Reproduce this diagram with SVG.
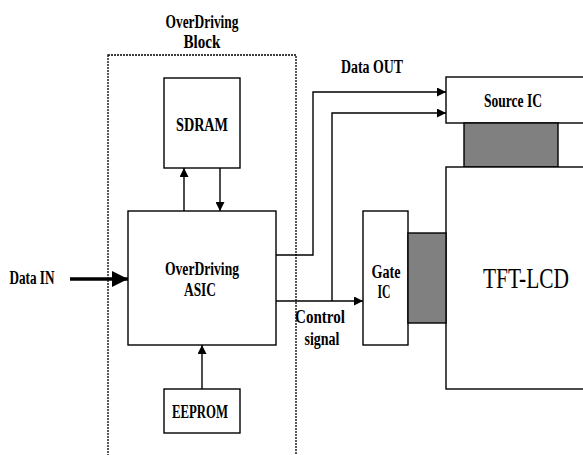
<svg xmlns="http://www.w3.org/2000/svg" width="583" height="455" viewBox="0 0 583 455">
<style>
.box{fill:#fff;stroke:#000;stroke-width:1.4}
.gray{fill:#808080;stroke:#000;stroke-width:1.4}
.ln{fill:none;stroke:#000;stroke-width:1.4}
.t{font-family:"Liberation Serif",serif;font-weight:bold;font-size:18px;fill:#000;text-anchor:middle}
.big{font-family:"Liberation Serif",serif;font-size:30px;fill:#000;text-anchor:middle}
</style>
<defs>
<marker id="ah" viewBox="0 0 10 10" refX="10" refY="5" markerWidth="11" markerHeight="9" markerUnits="userSpaceOnUse" orient="auto">
<path d="M0,0 L10,5 L0,10 z" fill="#000"/>
</marker>
<marker id="ahb" viewBox="0 0 10 10" refX="10" refY="5" markerWidth="22" markerHeight="16" markerUnits="userSpaceOnUse" orient="auto">
<path d="M0,0 L10,5 L0,10 z" fill="#000"/>
</marker>
</defs>
<rect width="583" height="455" fill="#fff"/>
<g id="block">
<rect x="108" y="55" width="188" height="410" fill="none" stroke="#000" stroke-width="1.3" stroke-dasharray="2,1"/>
<text class="t" x="202" y="28" textLength="73" lengthAdjust="spacingAndGlyphs">OverDriving</text>
<text class="t" x="202" y="48" textLength="37" lengthAdjust="spacingAndGlyphs">Block</text>
</g>
<g id="sdram">
<rect class="box" x="164" y="78" width="76" height="90"/>
<text class="t" x="202" y="131" textLength="52" lengthAdjust="spacingAndGlyphs">SDRAM</text>
</g>
<g id="asic">
<rect class="box" x="128" y="211" width="148" height="134"/>
<text class="t" x="202" y="275" textLength="74" lengthAdjust="spacingAndGlyphs">OverDriving</text>
<text class="t" x="200" y="296" textLength="32" lengthAdjust="spacingAndGlyphs">ASIC</text>
</g>
<g id="eeprom">
<rect class="box" x="164" y="389" width="76" height="44"/>
<text class="t" x="200" y="418" textLength="56" lengthAdjust="spacingAndGlyphs">EEPROM</text>
</g>
<g id="source">
<rect class="box" x="446" y="77" width="145" height="46"/>
<text class="t" x="513" y="107" textLength="58" lengthAdjust="spacingAndGlyphs">Source IC</text>
<rect class="gray" x="464" y="123" width="94" height="44"/>
</g>
<g id="tft">
<rect class="box" x="446" y="167" width="145" height="222"/>
<text class="big" x="526" y="288" textLength="86" lengthAdjust="spacingAndGlyphs">TFT-LCD</text>
</g>
<g id="gate">
<rect class="box" x="363" y="211" width="45" height="134"/>
<text class="t" x="386" y="278" textLength="29" lengthAdjust="spacingAndGlyphs">Gate</text>
<text class="t" x="384" y="298" textLength="13" lengthAdjust="spacingAndGlyphs">IC</text>
<rect class="gray" x="408" y="233" width="38" height="90"/>
</g>
<g id="labels">
<text class="t" x="32" y="284" textLength="45" lengthAdjust="spacingAndGlyphs">Data IN</text>
<text class="t" x="372" y="73" textLength="62" lengthAdjust="spacingAndGlyphs">Data OUT</text>
<text class="t" x="320" y="323" textLength="50" lengthAdjust="spacingAndGlyphs">Control</text>
<text class="t" x="322" y="345" textLength="35" lengthAdjust="spacingAndGlyphs">signal</text>
</g>
<g id="connectors">
<line x1="70" y1="279" x2="128" y2="279" stroke="#000" stroke-width="3.5" marker-end="url(#ahb)"/>
<line class="ln" x1="184" y1="211" x2="184" y2="168" marker-end="url(#ah)"/>
<line class="ln" x1="220" y1="168" x2="220" y2="211" marker-end="url(#ah)"/>
<line class="ln" x1="202" y1="389" x2="202" y2="345" marker-end="url(#ah)"/>
<polyline class="ln" points="276,255 313,255 313,92 446,92" marker-end="url(#ah)"/>
<line class="ln" x1="276" y1="301" x2="363" y2="301" marker-end="url(#ah)"/>
<polyline class="ln" points="332,301 332,113 446,113" marker-end="url(#ah)"/>
</g>
</svg>
